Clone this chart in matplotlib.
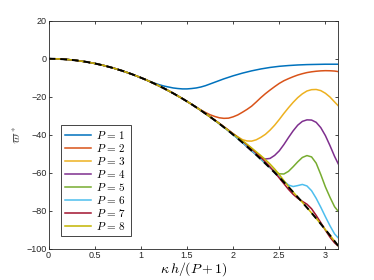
import numpy as np
import matplotlib
matplotlib.use("Agg")
import matplotlib.pyplot as plt

plt.rcParams['mathtext.fontset'] = 'cm'
plt.rcParams['font.family'] = ['Liberation Sans', 'DejaVu Sans']

# Sample points along kappa h / (P+1): coarse up to 1, finer after
x = [0.0, 0.1, 0.2, 0.3, 0.4, 0.5, 0.6, 0.7, 0.8, 0.9, 1.0,
     1.05, 1.1, 1.15, 1.2, 1.25, 1.3, 1.35, 1.4, 1.45, 1.5,
     1.55, 1.6, 1.65, 1.7, 1.75, 1.8, 1.85, 1.9, 1.95, 2.0,
     2.05, 2.1, 2.15, 2.2, 2.25, 2.3, 2.35, 2.4, 2.45, 2.5,
     2.55, 2.6, 2.65, 2.7, 2.75, 2.8, 2.85, 2.9, 2.95, 3.0,
     3.05, 3.1, np.pi]

# exact curve (black dashed)
exact = [0, -0.1, -0.4, -0.9, -1.6, -2.5, -3.6, -4.9, -6.4, -8.1, -10.0,
         -11.0, -12.1, -13.2, -14.4, -15.6, -16.9, -18.2, -19.6, -21.0, -22.5,
         -24.0, -25.6, -27.2, -28.9, -30.6, -32.4, -34.2, -36.1, -38.0, -40.0,
         -42.0, -44.1, -46.2, -48.4, -50.6, -52.9, -55.2, -57.6, -60.0, -62.5,
         -65.0, -67.6, -70.2, -72.9, -75.6, -78.4, -81.2, -84.1, -87.0, -90.0,
         -93.0, -96.1, -98.7]

p1 = exact[:11] + [
    -11.0, -12.0, -12.9, -13.7, -14.4, -14.9, -15.4, -15.7, -15.9, -15.9,
    -15.7, -15.4, -14.9, -14.2, -13.3, -12.4, -11.5, -10.6, -9.8, -9.0,
    -8.3, -7.6, -7.0, -6.4, -5.9, -5.4, -5.0, -4.6, -4.3, -4.0,
    -3.8, -3.6, -3.45, -3.3, -3.2, -3.1, -3.05, -3.0, -2.95, -2.9,
    -2.9, -2.9, -2.9]
p2 = exact[:21] + [
    -24.0, -25.5, -27.0, -28.3, -29.5, -30.4, -31.1, -31.4, -31.3, -30.6,
    -29.6, -28.2, -26.7, -25.0, -22.8, -20.5, -18.4, -16.5, -14.7, -13.0,
    -11.6, -10.5, -9.5, -8.6, -7.9, -7.3, -6.9, -6.6, -6.4, -6.3,
    -6.35, -6.5, -6.8]
p3 = exact[:29] + [
    -37.9, -39.5, -41.1, -42.6, -43.3, -43.4, -42.7, -41.4, -39.8, -37.6,
    -35.0, -32.0, -28.8, -25.8, -23.0, -20.5, -18.5, -17.0, -16.3, -16.2,
    -16.8, -18.2, -20.2, -22.8, -24.9]
p4 = exact[:33] + [
    -46.4, -48.6, -50.6, -52.1, -52.8, -52.5, -50.9, -48.5, -45.2, -41.5,
    -38.0, -35.0, -33.0, -32.2, -32.3, -33.5, -36.3, -40.5, -45.8, -51.5,
    -55.6]
p5 = exact[:37] + [
    -55.3, -57.4, -59.3, -60.6, -60.7, -59.3, -56.9, -54.3, -52.0, -51.0,
    -51.7, -55.0, -61.0, -67.5, -73.0, -78.0, -80.5]
p6 = exact[:38] + [
    -57.4, -59.7, -62.1, -64.5, -66.5, -67.3, -66.8, -66.2, -67.0, -69.5,
    -73.5, -78.2, -83.2, -88.0, -92.3, -94.5]
p7 = exact[:26] + [
    -32.3, -34.0, -35.8, -37.6, -39.5, -41.4, -43.3, -45.4, -47.5, -49.7,
    -52.0, -54.4, -57.0, -59.8, -62.8, -65.8, -68.8, -71.4, -73.5, -75.1,
    -76.6, -79.0, -82.5, -86.3, -90.3, -94.0, -97.0, -98.7]
p8 = exact[:26] + [
    -32.3, -34.1, -35.9, -37.8, -39.7, -41.4, -43.2, -45.0, -47.0, -49.0,
    -51.0, -53.2, -55.5, -58.1, -61.0, -64.2, -67.3, -70.2, -72.9] + exact[45:]

series = [p1, p2, p3, p4, p5, p6, p7, p8]
labels = [r'$P\,=\,%d$' % k for k in range(1, 9)]
colors = ['#0072BD', '#D95319', '#EDB120', '#7E2F8E',
          '#77AC30', '#4DBEEE', '#A2142F', '#C2B400']

fig = plt.figure(figsize=(3.74, 2.80), dpi=100)
ax = fig.add_axes([0.130, 0.112, 0.775, 0.814])

for y, c, lab in zip(series, colors, labels):
    ax.plot(x, y, color=c, lw=1.1, label=lab)
ax.plot(x, exact, color='k', lw=1.4, ls=(0, (3.5, 2.5)))

ax.set_xlim(0, np.pi)
ax.set_ylim(-100, 20)
ax.set_xticks([0, 0.5, 1, 1.5, 2, 2.5, 3])
ax.set_xticklabels(['0', '0.5', '1', '1.5', '2', '2.5', '3'])
ax.set_yticks([-100, -80, -60, -40, -20, 0, 20])
ax.tick_params(direction='in', top=True, right=True, length=2.5, width=0.6,
               labelsize=6.5, colors='#262626', pad=1.5)
for s in ax.spines.values():
    s.set_linewidth(0.6)
    s.set_color('#262626')

ax.set_xlabel(r'$\kappa\, h/(P+1)$', fontsize=10, labelpad=0)
ax.set_ylabel(r'$\varpi^*$', fontsize=9, labelpad=2, color='#555555')

leg = ax.legend(loc='lower left', bbox_to_anchor=(0.025, 0.03), fontsize=8,
                handlelength=2.3, handletextpad=0.5, labelspacing=0.1,
                borderpad=0.35, fancybox=False, framealpha=1)
leg.get_frame().set_edgecolor('#262626')
leg.get_frame().set_linewidth(0.6)

fig.savefig('out.png', dpi=100)
